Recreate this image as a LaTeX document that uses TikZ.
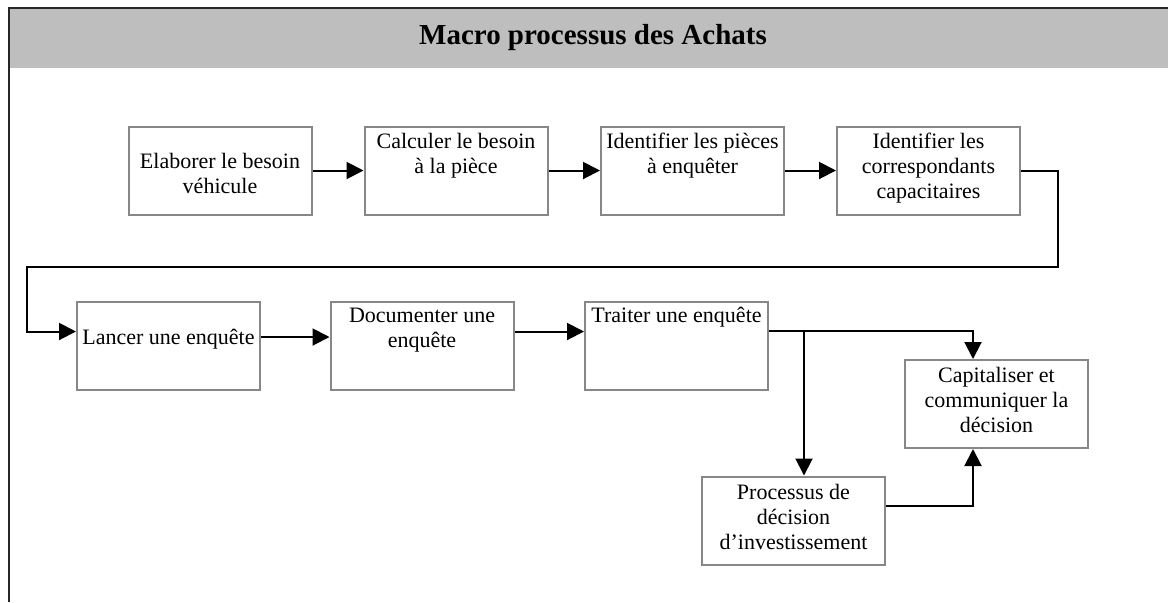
\documentclass[tikz,border=0pt]{standalone}
\usepackage{fontspec}
\setmainfont{Liberation Serif}
\usetikzlibrary{arrows.meta}
\definecolor{bandeau}{RGB}{190,190,190}
\definecolor{bord}{RGB}{135,135,135}

\begin{document}
\begin{tikzpicture}[x=0.5pt, y=-0.5pt, >={Triangle[length=8.5pt,width=8.5pt]},
        etape/.style={draw=bord, line width=1pt, inner sep=0pt, fill=white},
        fleche/.style={->, line width=1pt}]
            \useasboundingbox (0,0) rectangle (1168,602);
            \newcommand{\contenu}[2]{\parbox[c][44pt][t]{91.5pt}{\fontsize{11}{12.6}\selectfont\centering\rule{0pt}{#1}#2}}

            \fill[bandeau] (9,8) rectangle (1168,68);
            \draw[line width=1pt, black!85] (9,602) -- (9,8) -- (1168,8);
            \node[font=\bfseries\fontsize{14.5}{17}\selectfont] (titre) at (593,38) {Macro processus des Achats};

            \node[etape] (b1) at (220,170.5) {\contenu{21pt}{Elaborer le besoin\\ véhicule}};
            \node[etape] (b2) at (456,170.5) {\contenu{11pt}{Calculer le besoin\\ à la pièce}};
            \node[etape] (b3) at (692.5,170.5) {\contenu{11pt}{Identifier les pièces\\ à enquêter}};
            \node[etape] (b4) at (928.5,170.5) {\contenu{11pt}{Identifier les\\ correspondants\\ capacitaires}};
            \node[etape] (b5) at (168.5,345.5) {\contenu{21.5pt}{Lancer une enquête}};
            \node[etape] (b6) at (422,345.5) {\contenu{10.5pt}{Documenter une\\ enquête}};
            \node[etape] (b7) at (676.5,345.5) {\contenu{10.5pt}{Traiter une enquête}};
            \node[etape] (b8) at (996.5,404) {\contenu{11pt}{Capitaliser et\\ communiquer la\\ décision}};
            \node[etape] (b9) at (793.5,520.5) {\contenu{11.5pt}{Processus de\\ décision\\ d’investissement}};

            \coordinate (r1) at (1058,267);
            \coordinate (r2) at (27,267);
            \coordinate (branche) at (804,331);

            \draw[fleche] (b1.east) -- (b2.west);
            \draw[fleche] (b2.east) -- (b3.west);
            \draw[fleche] (b3.east) -- (b4.west);
            \draw[fleche] (b4.east) -| (r1) -- (r2) |- ([yshift=7pt]b5.west);
            \draw[fleche] ([yshift=4.25pt]b5.east) -- ([yshift=4.25pt]b6.west);
            \draw[fleche] ([yshift=7pt]b6.east) -- ([yshift=7pt]b7.west);
            \draw[fleche] ([yshift=7.25pt]b7.east) -| ([xshift=-11.75pt]b8.north);
            \draw[fleche] (branche) -- (branche |- b9.north);
            \draw[fleche] ([yshift=7.25pt]b9.east) -| ([xshift=-11.75pt]b8.south);
        \end{tikzpicture}
\end{document}
